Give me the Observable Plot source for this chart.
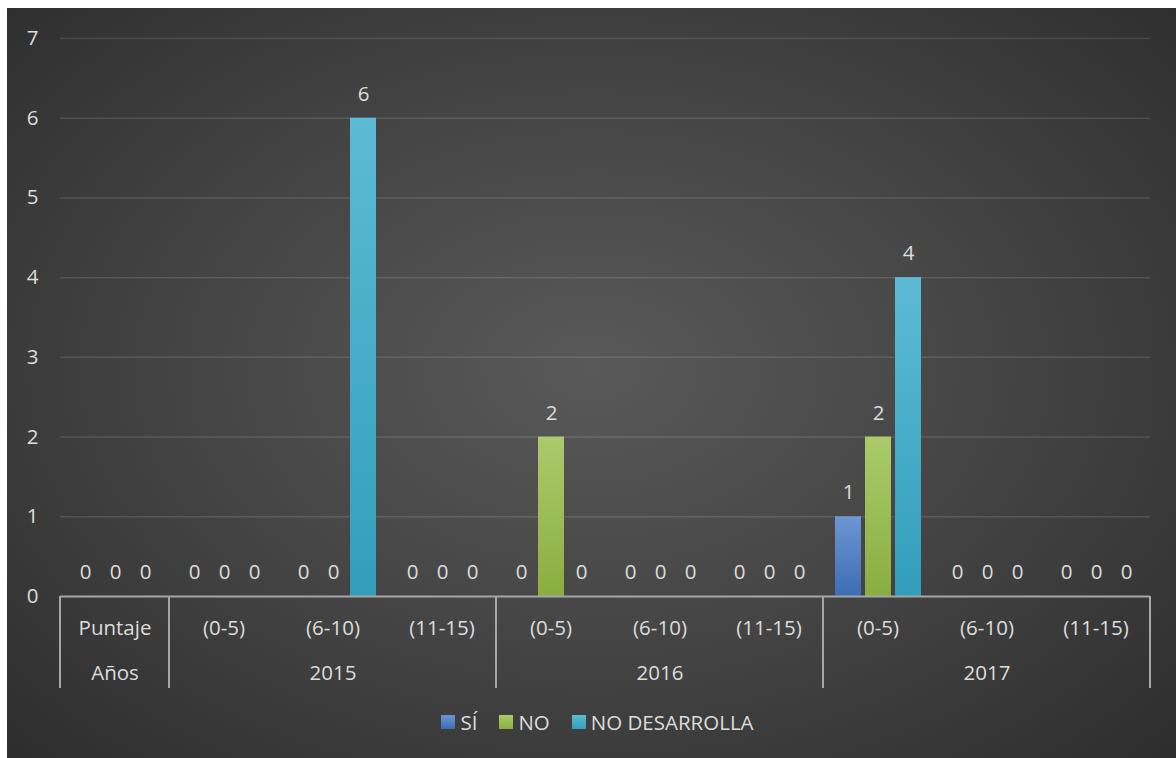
<!DOCTYPE html>
<html>
<head>
<meta charset="utf-8">
<script src="https://cdn.jsdelivr.net/npm/d3@7"></script>
<script src="https://cdn.jsdelivr.net/npm/@observablehq/plot@0.6"></script>
<style>
  html, body { margin: 0; padding: 0; background: #ffffff; }
  #chart {
    position: absolute; left: 7px; top: 8px; width: 1169px; height: 750px;
    background: radial-gradient(ellipse 75% 80% at 50% 48%, #595959 0%, #454545 45%, #2a2a2a 100%);
    font-family: "Open Sans", sans-serif; overflow: hidden;
  }
  #legend {
    display: flex; justify-content: center; align-items: center; gap: 22px;
    margin-top: 12px; height: 24px; padding-left: 12px;
    color: #dcdcdc; font-size: 20.5px; font-family: "Open Sans", sans-serif;
  }
  #legend .item { display: flex; align-items: center; gap: 5px; }
  #legend .sw { width: 14px; height: 14px; display: inline-block; }
</style>
</head>
<body>
<div id="chart"></div>
<script>
// ---- data ----
const scoreLabels = ["Puntaje", "(0-5)", "(6-10)", "(11-15)", "(0-5)", "(6-10)", "(11-15)", "(0-5)", "(6-10)", "(11-15)"];
const yearLabels  = ["Años", "2015", "2015", "2015", "2016", "2016", "2016", "2017", "2017", "2017"];
const seriesNames = ["SÍ", "NO", "NO DESARROLLA"];
const siValues    = [0, 0, 0, 0, 0, 0, 0, 1, 0, 0];
const noValues    = [0, 0, 0, 0, 2, 0, 0, 2, 0, 0];
const noDesValues = [0, 0, 6, 0, 0, 0, 0, 4, 0, 0];
const yTicks      = [0, 1, 2, 3, 4, 5, 6, 7];
const seriesColors = ["#4f7fc4", "#9bbb59", "#45a9c6"];
const gradStops = [["#6c96d4", "#3d6db3"], ["#abcb6b", "#8aad40"], ["#5cbbd4", "#329ebc"]];

// ---- table ----
const seriesValues = [siValues, noValues, noDesValues];
const idx = scoreLabels.map((_, i) => i);
const rows = [];
idx.forEach(i => seriesNames.forEach((s, k) => rows.push({cat: i, series: s, value: seriesValues[k][i]})));
const catRows = idx.map(i => ({cat: i, score: scoreLabels[i]}));
// year labels centred on the middle category of each run
const yearRows = [];
const sepIdx = [];
{
  let start = 0;
  for (let i = 1; i <= yearLabels.length; i++) {
    if (i === yearLabels.length || yearLabels[i] !== yearLabels[start]) {
      yearRows.push({cat: Math.floor((start + i - 1) / 2), year: yearLabels[start]});
      sepIdx.push(start);
      start = i;
    }
  }
}

const textColor = "#dcdcdc";
const fs = 20.5;
const plot = Plot.plot({
  width: 1169,
  height: 690,
  marginTop: 30,
  marginLeft: 53,
  marginRight: 26,
  marginBottom: 102,
  style: {background: "transparent", color: textColor, fontFamily: "Open Sans, sans-serif", fontSize: fs + "px", overflow: "visible"},
  fx: {domain: idx, padding: 0, axis: null, label: null},
  x: {domain: seriesNames, paddingInner: 0.15, paddingOuter: 0.39, axis: null},
  y: {domain: [0, 7], ticks: yTicks, tickSize: 0, tickPadding: 22, label: null, tickFormat: d3.format("d")},
  color: {domain: seriesNames, range: seriesColors},
  marks: [
    Plot.ruleY(yTicks.filter(t => t > 0), {stroke: "#ffffff", strokeOpacity: 0.12, strokeWidth: 1.5}),
    Plot.barY(rows, {fx: "cat", x: "series", y: "value", fill: "series"}),
    Plot.text(rows, {fx: "cat", x: "series", y: "value", text: d => String(d.value), dy: -24, fill: textColor, fontSize: fs}),
    Plot.ruleY([0], {stroke: "#a6a6a6", strokeWidth: 2}),
    Plot.text(catRows, {fx: "cat", text: "score", frameAnchor: "bottom", dy: 38, fill: textColor, fontSize: fs}),
    Plot.text(yearRows, {fx: "cat", text: "year", frameAnchor: "bottom", dy: 83, fill: textColor, fontSize: fs})
  ]
});

const chart = document.getElementById("chart");
chart.appendChild(plot);

// gradients for bars
const svg = d3.select(plot);
const defs = svg.insert("defs", ":first-child");
seriesColors.forEach((c, k) => {
  const g = defs.append("linearGradient").attr("id", "grad" + k).attr("x1", 0).attr("y1", 0).attr("x2", 0).attr("y2", 1);
  g.append("stop").attr("offset", "0%").attr("stop-color", gradStops[k][0]);
  g.append("stop").attr("offset", "100%").attr("stop-color", gradStops[k][1]);
});
svg.selectAll('g[aria-label="bar"] rect').each(function() {
  const f = (this.getAttribute("fill") || "").toLowerCase();
  const k = seriesColors.indexOf(f);
  if (k >= 0) this.setAttribute("fill", `url(#grad${k})`);
});

// category separators under the axis, from the fx and y scales
const fx = plot.scale("fx");
const ys = plot.scale("y");
const y0 = ys.apply(0);
const sepX = sepIdx.map(i => fx.apply(i)).concat([fx.apply(idx[idx.length - 1]) + fx.bandwidth]);
svg.append("g").selectAll("line").data(sepX).join("line")
  .attr("x1", d => d).attr("x2", d => d)
  .attr("y1", y0).attr("y2", y0 + 92)
  .attr("stroke", "#a6a6a6").attr("stroke-width", 2);

// legend
const legend = document.createElement("div");
legend.id = "legend";
seriesNames.forEach((s, k) => {
  const it = document.createElement("span");
  it.className = "item";
  it.innerHTML = `<span class="sw" style="background:linear-gradient(${gradStops[k][0]},${gradStops[k][1]})"></span><span>${s}</span>`;
  legend.appendChild(it);
});
chart.appendChild(legend);
</script>
</body>
</html>
